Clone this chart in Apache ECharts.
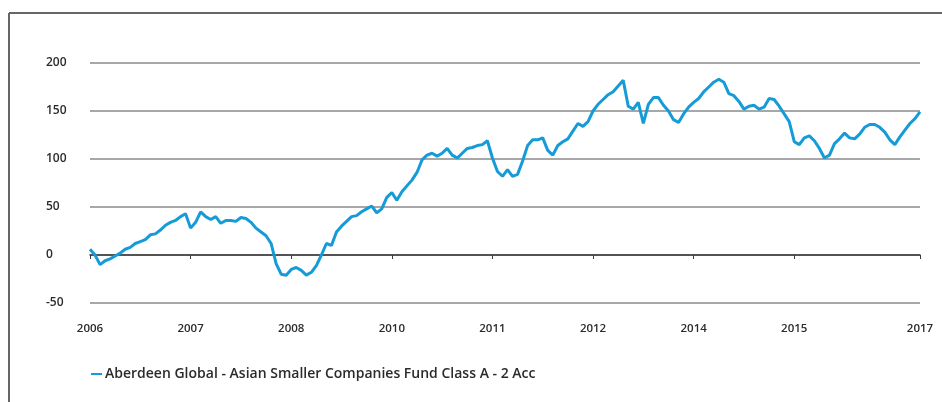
<!DOCTYPE html>
<html>
<head>
  <meta charset="utf-8">
  <title>Aberdeen Global - Asian Smaller Companies Fund</title>
  <script src="https://cdn.jsdelivr.net/npm/echarts@6/dist/echarts.min.js"></script>
  <style>
    html, body { margin: 0; padding: 0; background: #fff; }
  </style>
</head>
<body>
  <div id="main" style="width:942px;height:402px;"></div>
  <script type="text/javascript">
    // one point every ~5px
    var seriesName = 'Aberdeen Global - Asian Smaller Companies Fund Class A - 2 Acc';
    var fundValues = [
      6, 0, -10, -6, -4, -1, 2, 6, 8, 12,
      14, 16, 21, 22, 26, 31, 34, 36, 40, 43,
      28, 34, 45, 40, 37, 40, 33, 36, 36, 35,
      39, 38, 34, 28, 24, 20, 12, -9, -20, -21,
      -15, -13, -16, -21, -18, -11, 0, 12, 10, 24,
      30, 35, 40, 41, 45, 48, 51, 44, 48, 60,
      65, 57, 66, 72, 78, 86, 99, 104, 106, 103,
      106, 111, 104, 101, 106, 111, 112, 114, 115, 119,
      101, 87, 82, 89, 82, 84, 98, 114, 120, 120,
      122, 109, 104, 114, 118, 121, 129, 137, 134, 139,
      150, 157, 162, 167, 170, 176, 182, 155, 152, 159,
      137, 157, 164, 164, 156, 150, 141, 138, 147, 154,
      159, 163, 170, 175, 180, 183, 180, 168, 166, 160,
      152, 155, 156, 152, 154, 163, 162, 155, 147, 139,
      118, 115, 122, 124, 119, 111, 101, 104, 116, 121,
      127, 122, 121, 126, 133, 136, 136, 133, 128, 120,
      115, 123, 130, 137, 142, 149
    ];
    // which points carry a date label
    var tickIndex = [0, 20, 40, 60, 80, 100, 120, 140, 165];
    var tickLabels = ['2006', '2007', '2008', '2010', '2011', '2012', '2014', '2015', '2017'];

    var categories = [];
    for (var i = 0; i < fundValues.length; i++) {
      categories.push(String(i));
    }
    function isTick(idx) {
      return tickIndex.indexOf(idx) !== -1;
    }

    var myChart = echarts.init(document.getElementById('main'));

    var option = {
      animation: false,
      textStyle: { fontFamily: 'Open Sans' },
      graphic: [
        { type: 'line', shape: { x1: 9, y1: 13, x2: 942, y2: 13 }, style: { stroke: '#666', lineWidth: 2 } },
        { type: 'line', shape: { x1: 9, y1: 13, x2: 9, y2: 402 }, style: { stroke: '#666', lineWidth: 2 } }
      ],
      grid: {
        left: 90,
        right: 22,
        top: 63,
        height: 240
      },
      legend: {
        left: 86,
        top: 362,
        itemWidth: 11,
        itemHeight: 2,
        itemGap: 10,
        icon: 'rect',
        textStyle: { fontSize: 14, color: '#2b2b2b', fontWeight: 600, padding: [0, 0, 0, -2] },
        data: [seriesName]
      },
      xAxis: {
        type: 'category',
        boundaryGap: false,
        data: categories,
        axisLine: { lineStyle: { color: '#3a3a3a', width: 1.5 } },
        axisTick: {
          interval: function (idx) { return isTick(idx); },
          length: 4,
          lineStyle: { color: '#3a3a3a' }
        },
        axisLabel: {
          interval: function (idx) { return isTick(idx); },
          margin: 20,
          fontSize: 11.5,
          fontWeight: 600,
          color: '#2b2b2b',
          formatter: function (val, idx) {
            var k = tickIndex.indexOf(idx);
            return k === -1 ? '' : tickLabels[k];
          }
        },
        splitLine: { show: false }
      },
      yAxis: {
        type: 'value',
        min: -50,
        max: 200,
        interval: 50,
        axisLine: { show: false },
        axisTick: { show: false },
        axisLabel: {
          align: 'left',
          margin: 44,
          fontSize: 12,
          fontWeight: 600,
          color: '#2b2b2b'
        },
        splitLine: { lineStyle: { color: '#8a8a8a', width: 1.5 } }
      },
      series: [{
        name: seriesName,
        type: 'line',
        data: fundValues,
        symbol: 'none',
        color: '#159bd8',
        lineStyle: { width: 3, color: '#159bd8' }
      }]
    };

    myChart.setOption(option);
  </script>
</body>
</html>
